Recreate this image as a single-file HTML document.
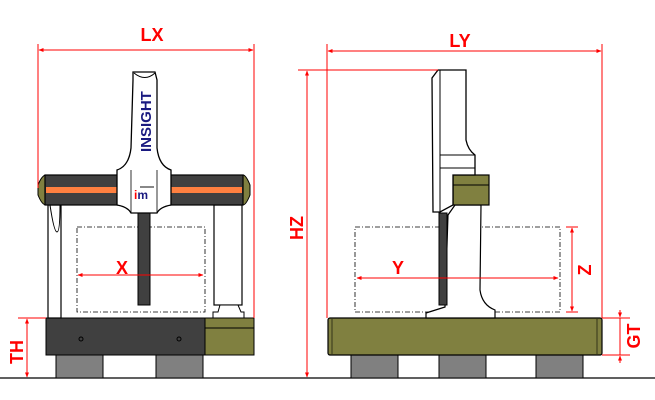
<!DOCTYPE html>
<html><head><style>body{margin:0;background:#fff}svg{display:block}text{font-weight:bold}</style></head><body>
<svg width="655" height="400" viewBox="0 0 655 400" xmlns="http://www.w3.org/2000/svg" font-family="Liberation Sans, sans-serif" font-weight="bold">
<defs>
<marker id="a" viewBox="0 0 10 10" refX="9" refY="5" markerWidth="5" markerHeight="5" orient="auto-start-reverse"><path d="M0,1 L10,5 L0,9 z" fill="red"/></marker>
</defs>
<line x1="0" y1="378" x2="655" y2="378" stroke="#000" stroke-width="1.2"/>
<!-- LEFT VIEW -->
<rect x="56" y="355" width="47" height="23" fill="#808080" stroke="#000"/>
<rect x="156" y="355" width="47" height="23" fill="#808080" stroke="#000"/>
<rect x="46" y="318" width="159" height="37" fill="#404040" stroke="#000"/>
<rect x="205" y="318" width="49" height="37" fill="#808040" stroke="#000"/>
<line x1="205" y1="328" x2="254" y2="328" stroke="#000"/>
<circle cx="81" cy="339" r="2" fill="none" stroke="#000"/>
<circle cx="179" cy="339" r="2" fill="none" stroke="#000"/>
<rect x="48" y="205" width="13" height="113" fill="#fff" stroke="#000" stroke-width="1.2"/>
<path d="M50,205 Q54,232 57,232 Q60,232 60,205" fill="none" stroke="#000"/>
<rect x="214" y="205" width="28" height="100" fill="#fff" stroke="#000" stroke-width="1.2"/>
<path d="M213,318 L213,312 L218,312 L220,305 L238,305 L241,312 L244,312 L244,318 z" fill="#fff" stroke="#000"/>
<rect x="77" y="227" width="128" height="85" fill="none" stroke="#000" stroke-dasharray="5,2,1,2" stroke-width="0.8"/>
<rect x="138" y="212" width="12" height="93" fill="#404040" stroke="#000"/>
<path d="M38,185 Q42,175 46,175 L46,205 Q42,205 38,195 z" fill="#808040" stroke="#000"/>
<path d="M250,185 Q246,175 243,175 L243,205 Q246,205 250,195 z" fill="#808040" stroke="#000"/>
<rect x="45" y="175" width="198" height="30" fill="#404040" stroke="#000" stroke-width="1.2"/>
<rect x="46" y="187" width="196" height="6" fill="#ff8040"/>
<path d="M133,72 L155,72 L157,80 L157,148 Q159,166 171,170 L171,205 Q160,207 157,213 L131,213 Q128,207 117,205 L117,170 Q129,166 131,148 L133,80 z" fill="#fff" stroke="#000" stroke-width="1.3"/>
<path d="M131,170 L131,213 M157,170 L157,213" fill="none" stroke="#000" stroke-width="0.8"/>
<path d="M134,73 Q145,82 155,73" fill="none" stroke="#000"/>
<text x="151" y="152" font-size="15" fill="#1a1a80" transform="rotate(-90 151 152)" font-weight="bold">INSIGHT</text>
<text x="134" y="199" font-size="12" fill="#1a1a80" font-weight="bold"><tspan fill="red">i</tspan>m</text>
<rect x="140" y="186" width="14" height="2" fill="#888"/>
<!-- LX -->
<line x1="38" y1="44" x2="38" y2="188" stroke="red"/>
<line x1="254" y1="44" x2="254" y2="318" stroke="red"/>
<line x1="39" y1="50" x2="253" y2="50" stroke="red" marker-start="url(#a)" marker-end="url(#a)"/>
<text x="152" y="41" font-size="18" fill="red" text-anchor="middle" font-weight="bold">LX</text>
<line x1="78" y1="275" x2="203" y2="275" stroke="red" marker-start="url(#a)" marker-end="url(#a)"/>
<text x="122" y="274" font-size="18" fill="red" text-anchor="middle" font-weight="bold">X</text>
<line x1="18" y1="318" x2="46" y2="318" stroke="red"/>
<line x1="27" y1="319" x2="27" y2="377" stroke="red" marker-start="url(#a)" marker-end="url(#a)"/>
<text x="23" y="352" font-size="18" fill="red" text-anchor="middle" transform="rotate(-90 23 352)" font-weight="bold">TH</text>
<!-- RIGHT VIEW -->
<rect x="351" y="355" width="47" height="23" fill="#808080" stroke="#000"/>
<rect x="439" y="355" width="47" height="23" fill="#808080" stroke="#000"/>
<rect x="536" y="355" width="47" height="23" fill="#808080" stroke="#000"/>
<rect x="328" y="318" width="274" height="37" rx="2" fill="#808040" stroke="#000" stroke-width="1.2"/>
<line x1="332" y1="319" x2="332" y2="354" stroke="#000" stroke-width="0.6"/>
<line x1="597" y1="319" x2="597" y2="354" stroke="#000" stroke-width="0.6"/>
<rect x="355" y="227" width="205" height="85" fill="none" stroke="#000" stroke-dasharray="5,2,1,2" stroke-width="0.8"/>
<path d="M455,205 L481,205 L480,290 Q482,305 495,310 L495,318 L426,318 L426,313 L445,307 L448,215 z" fill="#fff" stroke="#000" stroke-width="1.2"/>
<rect x="439" y="213" width="8" height="92" fill="#404040" stroke="#000"/>
<rect x="453" y="175" width="36" height="30" fill="#808040" stroke="#000" stroke-width="1.2"/>
<line x1="453" y1="185" x2="489" y2="185" stroke="#000"/>
<path d="M438,70 L466,70 L466,140 Q468,150 475,155 L475,175 L453,175 L453,205 L440,212 L433,212 L432,78 z" fill="#fff" stroke="#000" stroke-width="1.3"/>
<line x1="440" y1="155" x2="475" y2="155" stroke="#000"/>
<line x1="440" y1="168" x2="475" y2="168" stroke="#000"/>
<line x1="440" y1="70" x2="440" y2="212" stroke="#000"/>
<line x1="327" y1="44" x2="327" y2="318" stroke="red"/>
<line x1="602" y1="44" x2="602" y2="318" stroke="red"/>
<line x1="328" y1="51" x2="601" y2="51" stroke="red" marker-start="url(#a)" marker-end="url(#a)"/>
<text x="460" y="47" font-size="18" fill="red" text-anchor="middle" font-weight="bold">LY</text>
<line x1="298" y1="70" x2="438" y2="70" stroke="red"/>
<line x1="307" y1="71" x2="307" y2="377" stroke="red" marker-start="url(#a)" marker-end="url(#a)"/>
<text x="303" y="228" font-size="18" fill="red" text-anchor="middle" transform="rotate(-90 303 228)" font-weight="bold">HZ</text>
<line x1="357" y1="278" x2="558" y2="278" stroke="red" marker-start="url(#a)" marker-end="url(#a)"/>
<text x="398" y="274" font-size="18" fill="red" text-anchor="middle" font-weight="bold">Y</text>
<line x1="572" y1="228" x2="572" y2="311" stroke="red" marker-start="url(#a)" marker-end="url(#a)"/>
<line x1="566" y1="227" x2="578" y2="227" stroke="red"/><line x1="566" y1="312" x2="578" y2="312" stroke="red"/>
<text x="591" y="270" font-size="18" fill="red" text-anchor="middle" transform="rotate(-90 591 270)" font-weight="bold">Z</text>
<line x1="602" y1="318" x2="630" y2="318" stroke="red"/>
<line x1="602" y1="355" x2="630" y2="355" stroke="red"/>
<line x1="620" y1="310" x2="620" y2="317" stroke="red" marker-end="url(#a)"/>
<line x1="620" y1="363" x2="620" y2="356" stroke="red" marker-end="url(#a)"/>
<line x1="620" y1="318" x2="620" y2="355" stroke="red"/>
<text x="640" y="336" font-size="18" fill="red" text-anchor="middle" transform="rotate(-90 640 336)" font-weight="bold">GT</text>
</svg>
</body></html>
